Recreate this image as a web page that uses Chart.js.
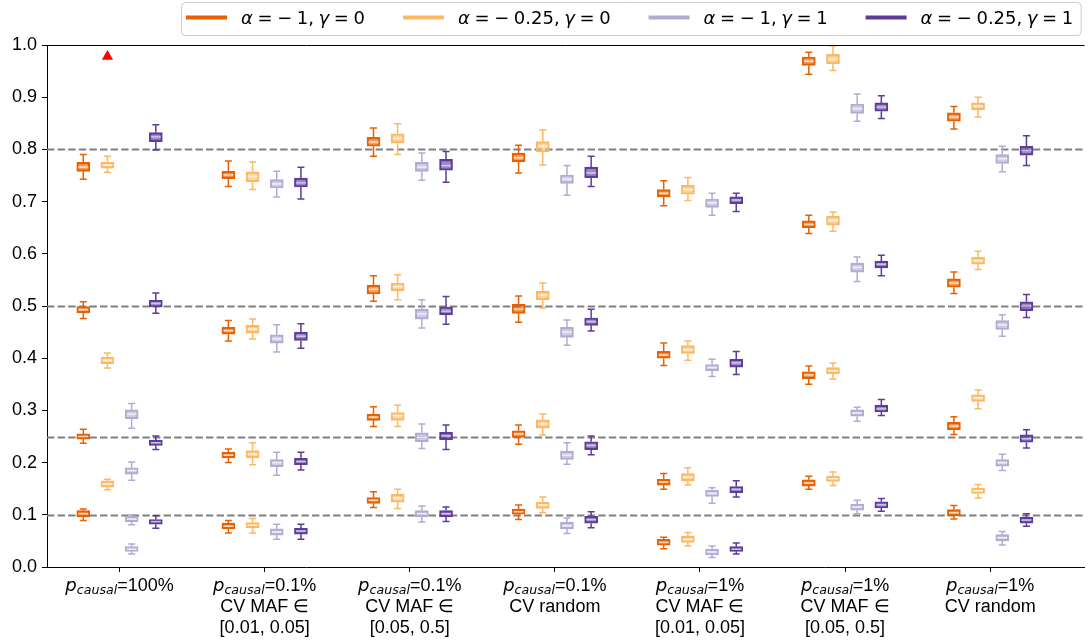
<!DOCTYPE html>
<html>
<head>
<meta charset="utf-8">
<script src="https://cdn.jsdelivr.net/npm/chart.js@4.4.1/dist/chart.umd.min.js"></script>
<style>
  html, body { margin: 0; padding: 0; background: #fff; }
  #wrap { width: 1091px; height: 643px; position: relative; }
</style>
</head>
<body>
<div id="wrap"><canvas id="chart" width="1091" height="643"></canvas></div>
<script>
// ---- categories (simulation settings) ----
const pCausal = ['100%', '0.1%', '0.1%', '0.1%', '1%', '1%', '1%'];
const cvSetting = [
  [],
  ['CV MAF ∈', '[0.01, 0.05]'],
  ['CV MAF ∈', '[0.05, 0.5]'],
  ['CV random'],
  ['CV MAF ∈', '[0.01, 0.05]'],
  ['CV MAF ∈', '[0.05, 0.5]'],
  ['CV random']
];

// ---- series ----
const seriesNames = ['α = −1, γ = 0', 'α = −0.25, γ = 0', 'α = −1, γ = 1', 'α = −0.25, γ = 1'];

// simulated heritability levels (reference lines)
const trueH2 = [0.1, 0.25, 0.5, 0.8];

// each box: [lower whisker, Q1, median, Q3, upper whisker]; one list of boxes per category
const boxesA1G0 = [
  [[0.743, 0.758, 0.766, 0.775, 0.790], [0.476, 0.487, 0.493, 0.499, 0.508], [0.237, 0.245, 0.250, 0.255, 0.264], [0.089, 0.096, 0.102, 0.108, 0.111]],
  [[0.729, 0.744, 0.751, 0.758, 0.778], [0.433, 0.446, 0.453, 0.459, 0.472], [0.200, 0.209, 0.214, 0.220, 0.226], [0.065, 0.073, 0.078, 0.084, 0.089]],
  [[0.787, 0.806, 0.814, 0.823, 0.841], [0.509, 0.523, 0.532, 0.540, 0.558], [0.269, 0.281, 0.287, 0.293, 0.307], [0.114, 0.122, 0.128, 0.133, 0.144]],
  [[0.755, 0.776, 0.784, 0.793, 0.808], [0.469, 0.486, 0.494, 0.503, 0.519], [0.235, 0.248, 0.255, 0.261, 0.272], [0.091, 0.101, 0.106, 0.111, 0.119]],
  [[0.692, 0.709, 0.716, 0.723, 0.740], [0.386, 0.400, 0.406, 0.413, 0.429], [0.149, 0.157, 0.163, 0.168, 0.179], [0.035, 0.042, 0.047, 0.053, 0.057]],
  [[0.944, 0.961, 0.969, 0.977, 0.986], [0.639, 0.650, 0.656, 0.663, 0.674], [0.350, 0.361, 0.368, 0.374, 0.385], [0.149, 0.155, 0.161, 0.167, 0.174]],
  [[0.839, 0.854, 0.862, 0.870, 0.882], [0.524, 0.536, 0.544, 0.552, 0.565], [0.254, 0.263, 0.270, 0.277, 0.288], [0.092, 0.098, 0.104, 0.110, 0.118]]
];
const boxesA025G0 = [
  [[0.756, 0.764, 0.770, 0.775, 0.787], [0.381, 0.389, 0.396, 0.402, 0.410], [0.148, 0.153, 0.159, 0.165, 0.168]],
  [[0.723, 0.738, 0.748, 0.757, 0.776], [0.437, 0.448, 0.456, 0.463, 0.475], [0.196, 0.209, 0.216, 0.223, 0.238], [0.065, 0.075, 0.080, 0.085, 0.093]],
  [[0.790, 0.812, 0.821, 0.830, 0.849], [0.512, 0.529, 0.537, 0.544, 0.560], [0.269, 0.281, 0.290, 0.296, 0.310], [0.112, 0.124, 0.132, 0.139, 0.149]],
  [[0.770, 0.795, 0.806, 0.815, 0.837], [0.496, 0.512, 0.521, 0.528, 0.544], [0.253, 0.266, 0.274, 0.282, 0.293], [0.104, 0.112, 0.119, 0.124, 0.134]],
  [[0.702, 0.714, 0.723, 0.731, 0.746], [0.396, 0.409, 0.416, 0.424, 0.433], [0.157, 0.165, 0.172, 0.179, 0.190], [0.040, 0.047, 0.053, 0.059, 0.066]],
  [[0.951, 0.964, 0.973, 0.982, 0.998], [0.643, 0.655, 0.664, 0.672, 0.680], [0.360, 0.370, 0.376, 0.382, 0.391], [0.156, 0.164, 0.169, 0.174, 0.182]],
  [[0.862, 0.876, 0.883, 0.889, 0.900], [0.570, 0.580, 0.587, 0.593, 0.605], [0.303, 0.317, 0.324, 0.330, 0.339], [0.132, 0.141, 0.146, 0.151, 0.158]]
];
const boxesA1G1 = [
  [[0.266, 0.284, 0.293, 0.301, 0.313], [0.166, 0.178, 0.185, 0.190, 0.201], [0.081, 0.087, 0.092, 0.097, 0.100], [0.025, 0.030, 0.034, 0.039, 0.044]],
  [[0.709, 0.726, 0.734, 0.742, 0.758], [0.412, 0.429, 0.437, 0.445, 0.464], [0.176, 0.192, 0.200, 0.206, 0.220], [0.053, 0.061, 0.067, 0.073, 0.082]],
  [[0.741, 0.758, 0.766, 0.775, 0.793], [0.458, 0.475, 0.485, 0.494, 0.512], [0.227, 0.240, 0.248, 0.257, 0.274], [0.086, 0.096, 0.102, 0.108, 0.117]],
  [[0.712, 0.735, 0.743, 0.751, 0.769], [0.425, 0.440, 0.450, 0.459, 0.473], [0.197, 0.206, 0.214, 0.222, 0.238], [0.064, 0.073, 0.079, 0.086, 0.094]],
  [[0.674, 0.689, 0.698, 0.705, 0.716], [0.365, 0.376, 0.382, 0.388, 0.398], [0.122, 0.135, 0.141, 0.147, 0.152], [0.018, 0.023, 0.029, 0.034, 0.040]],
  [[0.854, 0.869, 0.878, 0.887, 0.906], [0.547, 0.565, 0.574, 0.582, 0.594], [0.279, 0.289, 0.295, 0.301, 0.306], [0.102, 0.109, 0.115, 0.120, 0.128]],
  [[0.757, 0.773, 0.782, 0.790, 0.806], [0.442, 0.455, 0.464, 0.472, 0.483], [0.185, 0.193, 0.200, 0.206, 0.216], [0.042, 0.050, 0.056, 0.062, 0.068]]
];
const boxesA025G1 = [
  [[0.799, 0.815, 0.824, 0.832, 0.847], [0.486, 0.498, 0.505, 0.511, 0.525], [0.225, 0.233, 0.238, 0.243, 0.251], [0.074, 0.082, 0.087, 0.091, 0.098]],
  [[0.705, 0.728, 0.736, 0.745, 0.766], [0.419, 0.434, 0.442, 0.450, 0.466], [0.186, 0.196, 0.202, 0.208, 0.220], [0.053, 0.063, 0.069, 0.074, 0.082]],
  [[0.737, 0.760, 0.769, 0.781, 0.796], [0.465, 0.483, 0.490, 0.498, 0.518], [0.225, 0.244, 0.251, 0.258, 0.272], [0.087, 0.096, 0.102, 0.108, 0.115]],
  [[0.729, 0.746, 0.755, 0.766, 0.787], [0.452, 0.463, 0.470, 0.477, 0.494], [0.215, 0.225, 0.233, 0.240, 0.251], [0.075, 0.084, 0.091, 0.097, 0.106]],
  [[0.681, 0.696, 0.703, 0.709, 0.716], [0.369, 0.383, 0.391, 0.398, 0.413], [0.134, 0.142, 0.149, 0.154, 0.165], [0.025, 0.030, 0.034, 0.039, 0.046]],
  [[0.859, 0.873, 0.881, 0.889, 0.903], [0.558, 0.573, 0.580, 0.586, 0.597], [0.290, 0.297, 0.303, 0.310, 0.321], [0.107, 0.113, 0.119, 0.125, 0.131]],
  [[0.769, 0.789, 0.798, 0.806, 0.826], [0.478, 0.491, 0.500, 0.508, 0.522], [0.228, 0.239, 0.246, 0.253, 0.263], [0.078, 0.084, 0.090, 0.095, 0.102]]
];

// flagged estimate (marker) : category, series, value
const flaggedCategory = [0];
const flaggedSeries = [1];
const flaggedValue = [0.978];

// ---- styles ----
const lineColors = ['#e66101', '#fdb863', '#b2abd2', '#5e3c99'];
const fillColors = ['rgba(230,97,1,0.6)', 'rgba(253,184,99,0.6)', 'rgba(178,171,210,0.6)', 'rgba(94,60,153,0.6)'];
const medianColors = ['rgba(255,236,220,0.75)', 'rgba(255,246,230,0.85)', 'rgba(245,244,250,0.85)', 'rgba(225,215,240,0.75)'];
const seriesOffset = [-0.25, -1 / 12, 1 / 12, 0.25];
const MAIN_FONT = '"Liberation Sans", Arial, sans-serif';
const MATH_FONT = '"DejaVu Sans", sans-serif';

const allBoxes = [boxesA1G0, boxesA025G0, boxesA1G1, boxesA025G1];

const datasets = allBoxes.map((perCategory, s) => ({
  type: 'bar',
  label: seriesNames[s],
  data: perCategory.flatMap((boxes, c) => boxes.map(b => ({ x: c + seriesOffset[s], y: [b[1], b[3]], stats: b }))),
  backgroundColor: fillColors[s],
  borderColor: lineColors[s],
  borderWidth: 1.5,
  borderSkipped: false,
  barThickness: 13,
  grouped: false,
  whisker: true,
  medianColor: medianColors[s]
}));

datasets.push({
  type: 'scatter',
  label: 'flagged',
  data: flaggedCategory.map((c, k) => ({ x: c + seriesOffset[flaggedSeries[k]], y: flaggedValue[k] })),
  pointStyle: 'triangle',
  radius: 6.5,
  backgroundColor: '#ff0000',
  borderWidth: 0
});

// dashed horizontal lines at the simulated heritabilities
const referenceLines = {
  id: 'referenceLines',
  beforeDatasetsDraw(chart) {
    const { ctx, chartArea, scales: { y } } = chart;
    ctx.save();
    ctx.strokeStyle = '#808080';
    ctx.lineWidth = 2;
    ctx.setLineDash([7.4, 3.2]);
    trueH2.forEach(v => {
      const py = Math.round(y.getPixelForValue(v)) + 0.5;
      ctx.beginPath();
      ctx.moveTo(chartArea.left, py);
      ctx.lineTo(chartArea.right, py);
      ctx.stroke();
    });
    ctx.restore();
  }
};

// whiskers, caps and medians for every box
const boxWhiskers = {
  id: 'boxWhiskers',
  afterDatasetsDraw(chart) {
    const { ctx, scales: { y } } = chart;
    chart.data.datasets.forEach((ds, di) => {
      if (!ds.whisker) return;
      const meta = chart.getDatasetMeta(di);
      meta.data.forEach((bar, i) => {
        const [lo, q1, med, q3, hi] = ds.data[i].stats;
        const x = bar.x;
        const half = bar.width / 2;
        const cap = 3.5;
        ctx.save();
        ctx.strokeStyle = ds.borderColor;
        ctx.lineWidth = 1.5;
        ctx.beginPath();
        ctx.moveTo(x, y.getPixelForValue(q1));
        ctx.lineTo(x, y.getPixelForValue(lo));
        ctx.moveTo(x, y.getPixelForValue(q3));
        ctx.lineTo(x, y.getPixelForValue(hi));
        ctx.moveTo(x - cap, y.getPixelForValue(lo));
        ctx.lineTo(x + cap, y.getPixelForValue(lo));
        ctx.moveTo(x - cap, y.getPixelForValue(hi));
        ctx.lineTo(x + cap, y.getPixelForValue(hi));
        ctx.stroke();
        ctx.strokeStyle = ds.medianColor;
        ctx.lineWidth = 1.5;
        ctx.beginPath();
        ctx.moveTo(x - half + 1.5, y.getPixelForValue(med));
        ctx.lineTo(x + half - 1.5, y.getPixelForValue(med));
        ctx.stroke();
        ctx.restore();
      });
    });
  }
};

// mixed upright / italic text, math style (Greek letters italic)
function drawMath(ctx, text, x, y) {
  const gap = 4.6;
  for (const ch of text) {
    if (ch === ' ') { x += gap; continue; }
    ctx.font = /[α-ω]/.test(ch) ? 'italic 18px ' + MATH_FONT : '18px ' + MATH_FONT;
    ctx.fillText(ch, x, y);
    x += ctx.measureText(ch).width;
    if (ch === '−') x += gap;
  }
  return x;
}

// top spine, category labels and legend
const decorations = {
  id: 'decorations',
  afterDraw(chart) {
    const { ctx, chartArea, scales: { x } } = chart;
    ctx.save();

    // top spine
    ctx.strokeStyle = '#000';
    ctx.lineWidth = 1;
    ctx.beginPath();
    ctx.moveTo(chartArea.left, Math.round(chartArea.top) + 0.5);
    ctx.lineTo(chartArea.right, Math.round(chartArea.top) + 0.5);
    ctx.stroke();

    // category labels
    ctx.fillStyle = '#000';
    ctx.textBaseline = 'alphabetic';
    const base = chartArea.bottom;
    pCausal.forEach((pv, i) => {
      const cx = x.getPixelForValue(i);
      const parts = [
        { t: 'p', f: 'italic 18px ' + MATH_FONT, dy: 0 },
        { t: 'causal', f: 'italic 12.6px ' + MATH_FONT, dy: 3 },
        { t: '=' + pv, f: '18px ' + MAIN_FONT, dy: 0 }
      ];
      let w = 0;
      parts.forEach(p => { ctx.font = p.f; p.w = ctx.measureText(p.t).width; w += p.w; });
      let px = cx - w / 2;
      ctx.textAlign = 'left';
      parts.forEach(p => { ctx.font = p.f; ctx.fillText(p.t, px, base + 24 + p.dy); px += p.w; });
      ctx.font = '18px ' + MAIN_FONT;
      ctx.textAlign = 'center';
      cvSetting[i].forEach((line, k) => ctx.fillText(line, cx, base + 45 + 20.5 * k));
    });

    // legend
    const boxLeft = 181.5, boxTop = 2.5, boxH = 33;
    const startX = 186, handle = 41, textGap = 14, colGap = 38, lineY = 17.5, textY = 24;
    // measure total width first
    ctx.textAlign = 'left';
    let endX = startX;
    ctx.globalAlpha = 0;
    seriesNames.forEach((name, s) => {
      endX += handle + textGap;
      endX = drawMath(ctx, name, endX, textY);
      if (s < seriesNames.length - 1) endX += colGap;
    });
    ctx.globalAlpha = 1;
    const boxW = endX + 8 - boxLeft;
    ctx.beginPath();
    ctx.roundRect(boxLeft, boxTop, boxW, boxH, 4);
    ctx.fillStyle = 'rgba(255,255,255,0.8)';
    ctx.fill();
    ctx.strokeStyle = '#cccccc';
    ctx.lineWidth = 1;
    ctx.stroke();

    let lx = startX;
    seriesNames.forEach((name, s) => {
      ctx.strokeStyle = lineColors[s];
      ctx.lineWidth = 4;
      ctx.beginPath();
      ctx.moveTo(lx, lineY);
      ctx.lineTo(lx + handle, lineY);
      ctx.stroke();
      lx += handle + textGap;
      ctx.fillStyle = '#000';
      lx = drawMath(ctx, name, lx, textY);
      lx += colGap;
    });
    ctx.restore();
  }
};

new Chart(document.getElementById('chart'), {
  type: 'bar',
  data: { datasets },
  options: {
    responsive: false,
    animation: false,
    devicePixelRatio: 1,
    layout: { padding: { top: 45, left: 0, right: 0, bottom: 0 } },
    plugins: { legend: { display: false }, tooltip: { enabled: false } },
    scales: {
      x: {
        type: 'linear',
        min: -0.5,
        max: 6.65,
        offset: false,
        afterBuildTicks(scale) { scale.ticks = pCausal.map((_, i) => ({ value: i })); },
        ticks: { callback: () => '', autoSkip: false, maxRotation: 0 },
        grid: { offset: false, drawOnChartArea: false, tickLength: 5, color: '#000', tickWidth: 1 },
        border: { display: true, color: '#000', width: 1 },
        afterFit(scale) { scale.height = 76; }
      },
      y: {
        min: 0,
        max: 1,
        ticks: {
          stepSize: 0.1,
          callback: v => Number(v).toFixed(1),
          font: { family: MAIN_FONT, size: 18 },
          color: '#000',
          padding: 5
        },
        grid: { drawOnChartArea: false, tickLength: 5, color: '#000', tickWidth: 1 },
        border: { display: true, color: '#000', width: 1 },
        afterFit(scale) { scale.width = 47; }
      }
    }
  },
  plugins: [referenceLines, boxWhiskers, decorations]
});
</script>
</body>
</html>
